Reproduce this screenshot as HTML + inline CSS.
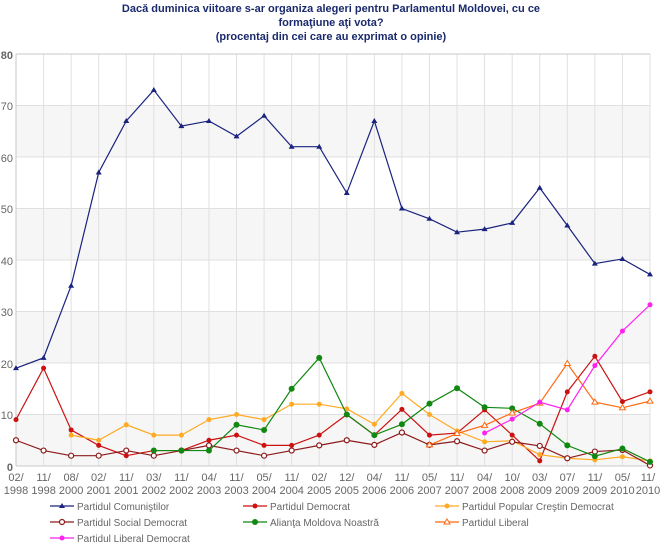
<!DOCTYPE html>
<html><head><meta charset="utf-8"><style>
body{margin:0;background:#fff;width:663px;height:548px;overflow:hidden;font-family:"Liberation Sans",sans-serif}
svg text{font-family:"Liberation Sans",sans-serif}
</style></head><body>
<svg id="s" width="663" height="548" xmlns="http://www.w3.org/2000/svg">
<g font-size="11" font-weight="bold" fill="#1a2a6c" text-anchor="middle">
<text x="331" y="12">Dacă duminica viitoare s-ar organiza alegeri pentru Parlamentul Moldovei, cu ce</text>
<text x="331" y="26">formaţiune aţi vota?</text>
<text x="331" y="40">(procentaj din cei care au exprimat o opinie)</text>
</g>
<g id="bands"></g>
<g id="grid"></g>
<g font-size="11" fill="#666" text-anchor="end">
<text x="13" y="59" font-weight="bold">80</text><text x="13" y="110">70</text><text x="13" y="162">60</text>
<text x="13" y="213">50</text><text x="13" y="265">40</text><text x="13" y="316">30</text>
<text x="13" y="368">20</text><text x="13" y="419">10</text><text x="13" y="471" font-weight="bold">0</text>
</g>
<g font-size="11" fill="#666" text-anchor="middle">
<text x="16" y="481">02/</text><text x="16" y="494">1998</text>
<text x="43.6" y="481">11/</text><text x="43.6" y="494">1998</text>
<text x="71.1" y="481">08/</text><text x="71.1" y="494">2000</text>
<text x="98.7" y="481">02/</text><text x="98.7" y="494">2001</text>
<text x="126.3" y="481">11/</text><text x="126.3" y="494">2001</text>
<text x="153.8" y="481">03/</text><text x="153.8" y="494">2002</text>
<text x="181.4" y="481">11/</text><text x="181.4" y="494">2002</text>
<text x="209" y="481">04/</text><text x="209" y="494">2003</text>
<text x="236.5" y="481">11/</text><text x="236.5" y="494">2003</text>
<text x="264.1" y="481">05/</text><text x="264.1" y="494">2004</text>
<text x="291.7" y="481">11/</text><text x="291.7" y="494">2004</text>
<text x="319.2" y="481">02/</text><text x="319.2" y="494">2005</text>
<text x="346.8" y="481">12/</text><text x="346.8" y="494">2005</text>
<text x="374.3" y="481">04/</text><text x="374.3" y="494">2006</text>
<text x="401.9" y="481">11/</text><text x="401.9" y="494">2006</text>
<text x="429.5" y="481">05/</text><text x="429.5" y="494">2007</text>
<text x="457" y="481">11/</text><text x="457" y="494">2007</text>
<text x="484.6" y="481">04/</text><text x="484.6" y="494">2008</text>
<text x="512.2" y="481">10/</text><text x="512.2" y="494">2008</text>
<text x="539.7" y="481">03/</text><text x="539.7" y="494">2009</text>
<text x="567.3" y="481">07/</text><text x="567.3" y="494">2009</text>
<text x="594.9" y="481">11/</text><text x="594.9" y="494">2009</text>
<text x="622.4" y="481">05/</text><text x="622.4" y="494">2010</text>
<text x="648" y="481">11/</text><text x="648" y="494">2010</text>
</g>
<g id="series"></g>
<g font-size="10" fill="#666">
<text x="77" y="510">Partidul Comuniştilor</text>
<text x="270" y="510">Partidul Democrat</text>
<text x="462" y="510">Partidul Popular Creştin Democrat</text>
<text x="77" y="526">Partidul Social Democrat</text>
<text x="270" y="526">Alianţa Moldova Noastră</text>
<text x="462" y="526">Partidul Liberal</text>
<text x="77" y="542">Partidul Liberal Democrat</text>
</g>
<g id="leg"></g>
</svg>
<script>
var NS="http://www.w3.org/2000/svg",L=16,R=650,T=54,B=466;
function el(p,t,a){var e=document.createElementNS(NS,t);for(var k in a)e.setAttribute(k,a[k]);p.appendChild(e);return e;}
function X(i){return L+i*(R-L)/23;}function Y(v){return B-v*(B-T)/80;}
var bands=document.getElementById('bands'),grid=document.getElementById('grid');
[0,20,40,60].forEach(function(v){el(bands,'rect',{x:L,y:Y(v+10),width:R-L,height:Y(v)-Y(v+10),fill:'#f6f6f6'});});
for(var v=10;v<=80;v+=10)el(grid,'line',{x1:L,x2:R,y1:Y(v),y2:Y(v),stroke:'#e0e0e0'});
for(var i=1;i<24;i++)el(grid,'line',{x1:X(i),x2:X(i),y1:T,y2:B,stroke:'#e0e0e0'});
el(grid,'line',{x1:L,x2:L,y1:T,y2:B,stroke:'#c8c8c8'});el(grid,'line',{x1:L,x2:R,y1:B,y2:B,stroke:'#c8c8c8'});
el(grid,'line',{x1:L,x2:R,y1:T,y2:T,stroke:'#c8c8c8'});
var S=[
['#1a237e','tri',0,[19,21,35,57,67,73,66,67,64,68,62,62,53,67,50,48,45.4,46,47.2,54,46.7,39.3,40.2,37.2]],
['#cc1111','dot',0,[9,19,7,4,2,3,3,5,6,4,4,6,10,6,11,6,6.4,10.9,6,1,14.4,21.3,12.5,14.4]],
['#ffaa22','dot',2,[6,5,8,6,6,9,10,9,12,12,11.1,8.1,14.1,10,6.8,4.7,4.9,2.2,1.5,1.2,1.8,1]],
['#8b1a1a','hol',0,[5,3,2,2,3,2,3,4,3,2,3,4,5,4.1,6.5,4.1,4.8,3,4.7,3.9,1.5,2.8,3.1,0.1]],
['#118811','big',5,[3,3,3,8,7,15,21,10,6,8.1,12.1,15.1,11.4,11.2,8.2,4,1.9,3.4,0.8]],
['#ff6a10','otri',15,[4.1,6.3,7.9,10.3,12.2,19.9,12.4,11.3,12.6]],
['#ff22ee','dot',17,[6.4,9.1,12.4,10.9,19.5,26.2,31.3]]];
var g=document.getElementById('series');
function mark(p,t,c,x,y){
 if(t=='tri')el(p,'path',{d:'M'+x+','+(y-3)+'L'+(x+3)+','+(y+2)+'L'+(x-3)+','+(y+2)+'Z',fill:c});
 else if(t=='otri')el(p,'path',{d:'M'+x+','+(y-3)+'L'+(x+3)+','+(y+2)+'L'+(x-3)+','+(y+2)+'Z',fill:'#fff',stroke:c});
 else if(t=='hol')el(p,'circle',{cx:x,cy:y,r:2.5,fill:'#fff',stroke:c,'stroke-width':1.2});
 else if(t=='big')el(p,'circle',{cx:x,cy:y,r:3,fill:c});
 else el(p,'circle',{cx:x,cy:y,r:2.5,fill:c});
}
S.forEach(function(s){var pts=s[3].map(function(v,j){return [X(s[2]+j),Y(v)];});
 el(g,'polyline',{points:pts.map(function(p){return p.join(',')}).join(' '),fill:'none',stroke:s[0],'stroke-width':1.2});
 pts.forEach(function(p){mark(g,s[1],s[0],p[0],p[1]);});});
var lg=document.getElementById('leg'),pos=[[50,506],[243,506],[435,506],[50,522],[243,522],[435,522],[50,538]];
S.forEach(function(s,i){var x=pos[i][0],y=pos[i][1];el(lg,'line',{x1:x,x2:x+24,y1:y,y2:y,stroke:s[0],'stroke-width':1.2});mark(lg,s[1],s[0],x+12,y);});
</script>
</body></html>
